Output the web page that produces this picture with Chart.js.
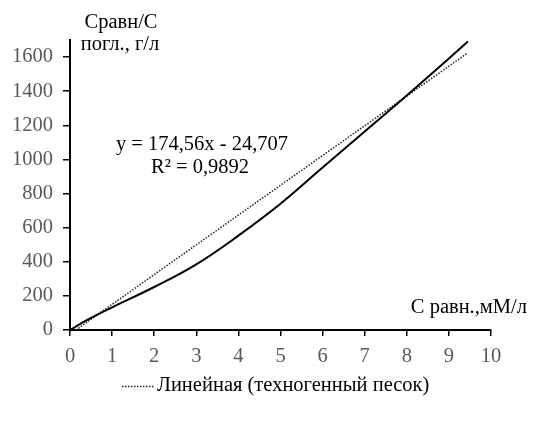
<!DOCTYPE html>
<html>
<head>
<meta charset="utf-8">
<script src="https://cdn.jsdelivr.net/npm/chart.js@4.4.1/dist/chart.umd.min.js"></script>
<style>
html,body{margin:0;padding:0;background:#fff;}
#wrap{width:539px;height:424px;position:relative;}
</style>
</head>
<body>
<div id="wrap"><canvas id="c" width="539" height="424"></canvas></div>
<script>
// Measured curve (C равн., мМ/л vs Сравн/С погл., г/л)
const xValues = [0, 0.4, 1, 2, 3, 4, 5, 6, 7, 8, 9, 9.45];
const yValues = [0, 58, 133, 252, 385, 553, 740, 952, 1163, 1375, 1592, 1691];
// Linear trendline endpoints (y = 174,56x - 24,707)
const trendX = [0.14, 9.45];
const trendY = [0, 1625];
const xTicks = [0,1,2,3,4,5,6,7,8,9,10];
const yTicks = [0,200,400,600,800,1000,1200,1400,1600];
const legendLabel = 'Линейная (техногенный песок)';
const yTitle = ['Сравн/С', 'погл., г/л'];
const xTitle = 'С равн.,мМ/л';
const eqLines = ['y = 174,56x - 24,707', 'R² = 0,9892'];

const FONT = '"Liberation Serif", "Times New Roman", serif';

const textPlugin = {
  id: 'texts',
  afterDraw(chart) {
    const ctx = chart.ctx;
    ctx.save();
    ctx.fillStyle = '#000';
    ctx.font = '20.5px ' + FONT;
    ctx.textAlign = 'center';
    ctx.textBaseline = 'middle';
    ctx.fillText(yTitle[0], 121, 23);
    ctx.fillText(yTitle[1], 120, 45);
    ctx.fillText(eqLines[0], 202, 145);
    ctx.fillText(eqLines[1], 200, 168);
    ctx.textAlign = 'right';
    ctx.fillText(xTitle, 527, 308);
    // legend
    ctx.textAlign = 'left';
    ctx.fillText(legendLabel, 157, 386);
    ctx.strokeStyle = '#222';
    ctx.lineWidth = 1.5;
    ctx.setLineDash([1.5, 1.5]);
    ctx.beginPath();
    ctx.moveTo(122, 386.5);
    ctx.lineTo(154, 386.5);
    ctx.stroke();
    ctx.restore();
  }
};

new Chart(document.getElementById('c'), {
  type: 'scatter',
  data: {
    datasets: [
      {
        label: 'техногенный песок',
        data: xValues.map((x, i) => ({x: x, y: yValues[i]})),
        showLine: true,
        borderColor: '#000',
        borderWidth: 2,
        pointRadius: 0,
        tension: 0.4,
        fill: false
      },
      {
        label: legendLabel,
        data: trendX.map((x, i) => ({x: x, y: trendY[i]})),
        showLine: true,
        borderColor: '#222',
        borderWidth: 1.5,
        borderDash: [1.5, 1.5],
        pointRadius: 0,
        fill: false
      }
    ]
  },
  options: {
    responsive: false,
    animation: false,
    layout: { padding: { left: 0, right: 48, top: 40, bottom: 0 } },
    plugins: { legend: { display: false }, tooltip: { enabled: false } },
    scales: {
      x: {
        type: 'linear',
        min: 0, max: 10,
        afterBuildTicks: s => { s.ticks = xTicks.map(v => ({value: v})); },
        afterFit: s => { s.height = 94; },
        border: { display: true, color: '#000', width: 2 },
        grid: { display: true, drawOnChartArea: false, drawTicks: true, tickLength: 6, color: '#000', lineWidth: 1.5 },
        ticks: { color: '#595959', font: { family: FONT, size: 20.5 }, padding: 8, callback: v => String(v), maxRotation: 0 }
      },
      y: {
        type: 'linear',
        min: 0, max: 1700,
        afterBuildTicks: s => { s.ticks = yTicks.map(v => ({value: v})); },
        afterFit: s => { s.width = 70; },
        border: { display: true, color: '#000', width: 2 },
        grid: { display: true, drawOnChartArea: false, drawTicks: true, tickLength: 7, color: '#000', lineWidth: 1.5 },
        ticks: { color: '#595959', font: { family: FONT, size: 20.5 }, padding: 10, callback: v => String(v) }
      }
    }
  },
  plugins: [textPlugin]
});
</script>
</body>
</html>
